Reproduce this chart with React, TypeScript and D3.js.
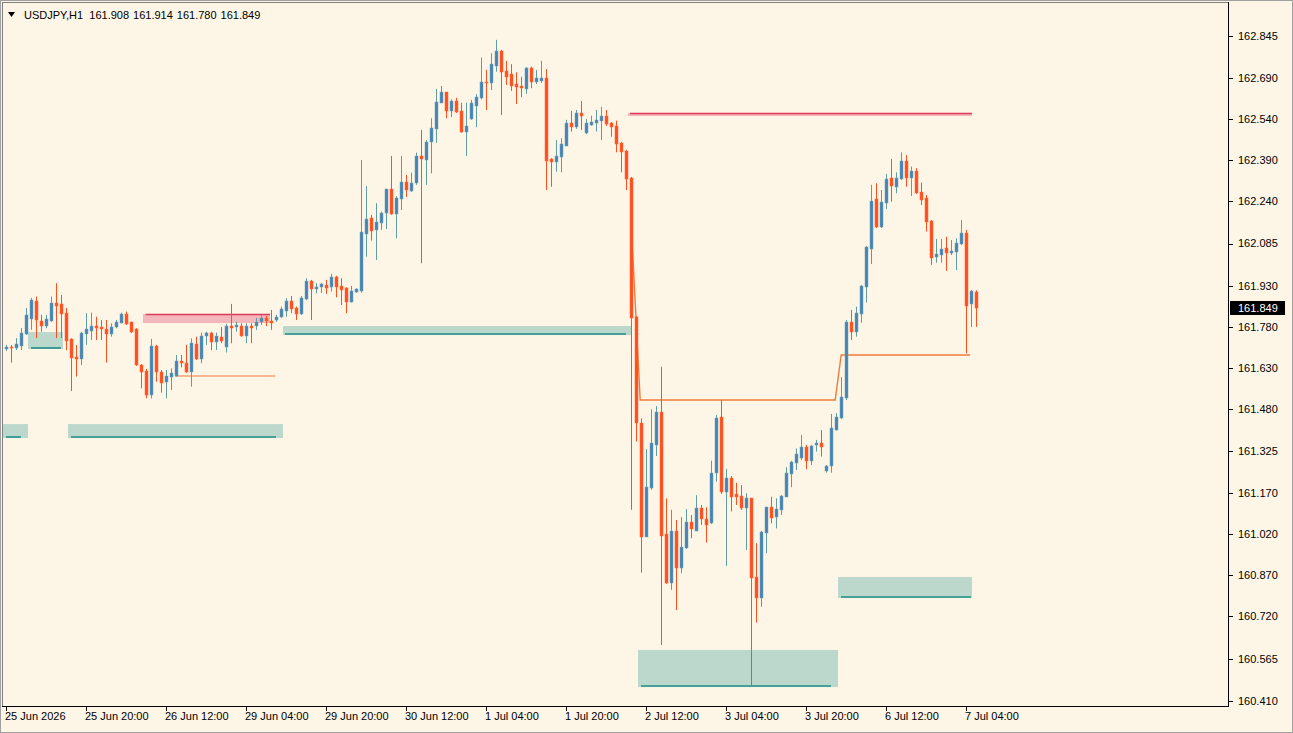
import React from 'react';
import * as d3 from 'd3';

// USDJPY H1 bars: [open, high, low, close]
const ohlc: [number, number, number, number][] = [
  [161.699, 161.714, 161.692, 161.706], [161.707, 161.714, 161.649, 161.702], [161.703, 161.739, 161.695, 161.717],
  [161.711, 161.776, 161.695, 161.759], [161.754, 161.849, 161.750, 161.824], [161.809, 161.886, 161.769, 161.878],
  [161.876, 161.891, 161.739, 161.805], [161.803, 161.824, 161.762, 161.784], [161.784, 161.824, 161.775, 161.809],
  [161.803, 161.891, 161.799, 161.869], [161.869, 161.940, 161.739, 161.858], [161.864, 161.897, 161.739, 161.827],
  [161.832, 161.849, 161.695, 161.730], [161.735, 161.738, 161.545, 161.665], [161.671, 161.714, 161.598, 161.661],
  [161.662, 161.762, 161.640, 161.757], [161.753, 161.830, 161.714, 161.771], [161.766, 161.832, 161.732, 161.784],
  [161.784, 161.817, 161.732, 161.775], [161.781, 161.805, 161.732, 161.771], [161.771, 161.805, 161.649, 161.753],
  [161.754, 161.793, 161.744, 161.781], [161.781, 161.805, 161.775, 161.799], [161.795, 161.832, 161.793, 161.827],
  [161.827, 161.836, 161.787, 161.791], [161.797, 161.799, 161.757, 161.760], [161.771, 161.775, 161.637, 161.640],
  [161.640, 161.644, 161.555, 161.616], [161.620, 161.626, 161.518, 161.531], [161.531, 161.736, 161.518, 161.710],
  [161.710, 161.714, 161.579, 161.616], [161.614, 161.622, 161.539, 161.573], [161.579, 161.622, 161.518, 161.600],
  [161.596, 161.628, 161.549, 161.610], [161.600, 161.677, 161.598, 161.656], [161.656, 161.677, 161.632, 161.647],
  [161.647, 161.714, 161.612, 161.616], [161.616, 161.738, 161.561, 161.720], [161.717, 161.744, 161.659, 161.661],
  [161.661, 161.759, 161.647, 161.747], [161.747, 161.762, 161.714, 161.759], [161.759, 161.762, 161.695, 161.726],
  [161.726, 161.759, 161.695, 161.747], [161.742, 161.779, 161.720, 161.730], [161.707, 161.791, 161.686, 161.783],
  [161.783, 161.864, 161.720, 161.775], [161.781, 161.799, 161.762, 161.787], [161.783, 161.793, 161.744, 161.748],
  [161.748, 161.793, 161.720, 161.783], [161.783, 161.793, 161.720, 161.775], [161.783, 161.813, 161.769, 161.798],
  [161.798, 161.824, 161.787, 161.812], [161.812, 161.820, 161.783, 161.803], [161.803, 161.842, 161.769, 161.794],
  [161.805, 161.824, 161.798, 161.817], [161.815, 161.854, 161.813, 161.844], [161.839, 161.885, 161.817, 161.876],
  [161.876, 161.893, 161.830, 161.844], [161.848, 161.854, 161.805, 161.827], [161.827, 161.893, 161.824, 161.885],
  [161.881, 161.958, 161.878, 161.949], [161.948, 161.952, 161.805, 161.918], [161.918, 161.940, 161.903, 161.927],
  [161.925, 161.941, 161.904, 161.936], [161.932, 161.952, 161.901, 161.921], [161.925, 161.974, 161.909, 161.962],
  [161.964, 161.967, 161.888, 161.927], [161.930, 161.958, 161.860, 161.915], [161.921, 161.925, 161.830, 161.872],
  [161.872, 161.930, 161.869, 161.913], [161.909, 161.921, 161.905, 161.918], [161.913, 162.391, 161.905, 162.129],
  [162.120, 162.296, 162.037, 162.174], [162.178, 162.190, 162.096, 162.132], [162.135, 162.233, 162.025, 162.163],
  [162.162, 162.202, 162.135, 162.196], [162.198, 162.285, 162.138, 162.284], [162.284, 162.406, 162.190, 162.192],
  [162.192, 162.259, 162.104, 162.251], [162.248, 162.406, 162.208, 162.309], [162.309, 162.336, 162.255, 162.281],
  [162.279, 162.345, 162.274, 162.306], [162.306, 162.418, 162.300, 162.406], [162.406, 162.501, 162.013, 162.394],
  [162.391, 162.464, 162.300, 162.456], [162.456, 162.544, 162.342, 162.507], [162.505, 162.651, 162.454, 162.605],
  [162.601, 162.662, 162.600, 162.639], [162.639, 162.640, 162.544, 162.572], [162.572, 162.613, 162.548, 162.608],
  [162.608, 162.619, 162.563, 162.566], [162.572, 162.601, 162.491, 162.495], [162.495, 162.601, 162.406, 162.516],
  [162.540, 162.611, 162.538, 162.599], [162.589, 162.632, 162.511, 162.621], [162.617, 162.766, 162.613, 162.676],
  [162.678, 162.721, 162.574, 162.672], [162.672, 162.782, 162.647, 162.742], [162.736, 162.831, 162.714, 162.791],
  [162.791, 162.794, 162.556, 162.714], [162.718, 162.754, 162.666, 162.696], [162.705, 162.742, 162.644, 162.663],
  [162.668, 162.712, 162.596, 162.657], [162.663, 162.696, 162.621, 162.654], [162.651, 162.731, 162.633, 162.727],
  [162.727, 162.733, 162.654, 162.678], [162.678, 162.721, 162.669, 162.690], [162.681, 162.754, 162.673, 162.690],
  [162.690, 162.724, 162.281, 162.387], [162.394, 162.398, 162.293, 162.383], [162.385, 162.464, 162.348, 162.407],
  [162.402, 162.471, 162.346, 162.449], [162.443, 162.538, 162.442, 162.526], [162.526, 162.571, 162.495, 162.513],
  [162.513, 162.574, 162.505, 162.562], [162.562, 162.607, 162.501, 162.553], [162.489, 162.541, 162.486, 162.526],
  [162.519, 162.553, 162.516, 162.529], [162.526, 162.574, 162.495, 162.538], [162.534, 162.586, 162.464, 162.553],
  [162.553, 162.574, 162.516, 162.522], [162.526, 162.530, 162.476, 162.513], [162.517, 162.535, 162.419, 162.449],
  [162.452, 162.457, 162.346, 162.422], [162.424, 162.428, 162.281, 162.322], [162.324, 162.329, 161.110, 161.812],
  [161.815, 161.820, 161.360, 161.427], [161.427, 161.445, 160.880, 161.012], [161.012, 161.332, 161.011, 161.193],
  [161.189, 161.478, 161.183, 161.354], [161.348, 161.490, 161.307, 161.467], [161.467, 161.634, 160.615, 161.015],
  [161.021, 161.152, 160.839, 160.841], [160.841, 161.110, 160.817, 161.033], [161.033, 161.073, 160.743, 160.896],
  [160.896, 161.083, 160.878, 160.973], [160.969, 161.113, 160.967, 161.065], [161.065, 161.091, 161.006, 161.039],
  [161.034, 161.164, 161.033, 161.116], [161.116, 161.128, 161.055, 161.076], [161.076, 161.119, 160.990, 161.055],
  [161.061, 161.290, 161.058, 161.246], [161.246, 161.457, 161.213, 161.445], [161.449, 161.512, 161.168, 161.177],
  [161.177, 161.260, 160.905, 161.226], [161.226, 161.234, 161.104, 161.158], [161.167, 161.209, 161.128, 161.158],
  [161.161, 161.201, 161.110, 161.116], [161.116, 161.171, 160.963, 161.152], [161.152, 161.153, 160.465, 160.859],
  [160.863, 160.988, 160.697, 160.786], [160.786, 161.033, 160.755, 161.030], [161.024, 161.121, 160.951, 161.120],
  [161.122, 161.158, 161.061, 161.079], [161.085, 161.152, 161.042, 161.112], [161.110, 161.164, 161.091, 161.161],
  [161.158, 161.266, 161.157, 161.246], [161.241, 161.289, 161.193, 161.286], [161.283, 161.335, 161.256, 161.313],
  [161.299, 161.384, 161.292, 161.339], [161.341, 161.348, 161.259, 161.290], [161.290, 161.348, 161.274, 161.344],
  [161.348, 161.366, 161.323, 161.356], [161.356, 161.402, 161.305, 161.339], [161.253, 161.274, 161.246, 161.271],
  [161.271, 161.461, 161.246, 161.409], [161.404, 161.464, 161.400, 161.449], [161.445, 161.596, 161.443, 161.524],
  [161.518, 161.805, 161.512, 161.799], [161.799, 161.842, 161.732, 161.762], [161.762, 161.854, 161.744, 161.830],
  [161.827, 161.933, 161.795, 161.931], [161.927, 162.076, 161.869, 162.071], [162.064, 162.300, 162.010, 162.242],
  [162.247, 162.306, 162.142, 162.145], [162.145, 162.281, 162.142, 162.238], [162.235, 162.340, 162.211, 162.320],
  [162.324, 162.395, 162.238, 162.296], [162.293, 162.346, 162.269, 162.324], [162.320, 162.419, 162.318, 162.389],
  [162.389, 162.409, 162.293, 162.324], [162.324, 162.367, 162.259, 162.351], [162.351, 162.361, 162.267, 162.269],
  [162.273, 162.308, 162.226, 162.245], [162.251, 162.263, 162.129, 162.165], [162.169, 162.171, 162.007, 162.031],
  [162.037, 162.102, 162.015, 162.046], [162.043, 162.102, 162.015, 162.064], [162.068, 162.110, 161.985, 162.049],
  [162.049, 162.098, 162.043, 162.059], [162.055, 162.104, 161.988, 162.086], [162.084, 162.171, 162.080, 162.123],
  [162.123, 162.135, 161.683, 161.858], [161.864, 161.915, 161.779, 161.913], [161.908, 161.914, 161.780, 161.849],
];

const timeLabels: [number, string][] = [
  [0, '25 Jun 2026'], [16, '25 Jun 20:00'], [32, '26 Jun 12:00'], [48, '29 Jun 04:00'],
  [64, '29 Jun 20:00'], [80, '30 Jun 12:00'], [96, '1 Jul 04:00'], [112, '1 Jul 20:00'],
  [128, '2 Jul 12:00'], [144, '3 Jul 04:00'], [160, '3 Jul 20:00'], [176, '6 Jul 12:00'],
  [192, '7 Jul 04:00'],
];

const priceTicks = [
  162.845, 162.690, 162.540, 162.390, 162.240, 162.085, 161.930, 161.780, 161.630,
  161.480, 161.325, 161.170, 161.020, 160.870, 160.720, 160.565, 160.410,
];

// demand zones: bar range, guide-line bar range, price top / bottom
const demandZones = [
  { from: -0.54, to: 4.46, lineFrom: 0.06, lineTo: 3.06, top: 161.424, bottom: 161.373 },
  { from: 12.46, to: 55.46, lineFrom: 13.06, lineTo: 54.06, top: 161.424, bottom: 161.373 },
  { from: 4.46, to: 11.46, lineFrom: 5.06, lineTo: 11.06, top: 161.761, bottom: 161.699 },
  { from: 55.46, to: 125.26, lineFrom: 55.86, lineTo: 124.06, top: 161.783, bottom: 161.750 },
  { from: 126.46, to: 166.46, lineFrom: 127.06, lineTo: 165.06, top: 160.597, bottom: 160.461 },
  { from: 166.46, to: 193.26, lineFrom: 167.06, lineTo: 193.06, top: 160.864, bottom: 160.787 },
];

const supplyZones = [
  { from: 27.46, to: 52.86, lineFrom: 28.0, lineTo: 52.86, top: 161.827, bottom: 161.794 },
  { from: 124.46, to: 193.26, lineFrom: 124.86, lineTo: 193.26, top: 162.563, bottom: 162.552 },
];

const pivotLine: [number, number][] = [[33.9, 161.600], [53.9, 161.600]];
const trailLine: [number, number][] = [
  [125.3, 162.086], [126.9, 161.512], [165.9, 161.512], [167.1, 161.677], [192.9, 161.677],
];

const header = { symbol: 'USDJPY,H1', values: ['161.908', '161.914', '161.780', '161.849'] };
const lastPrice = 161.849;

const W = 1293;
const H = 733;
const plotRight = 1228;
const plotBottom = 706;

const BULL_BODY = '#4682B4';
const BULL_WICK = '#5F9EA0';
const BEAR = '#FF4F1E';
const FONT = '"Liberation Sans", Arial, sans-serif';

export default function App() {
  const x = d3.scaleLinear().domain([0, ohlc.length - 1]).range([5.7, 975.7]);
  const y = d3.scaleLinear().domain([160.41, 162.845]).range([701, 36]);
  const line = d3.line<[number, number]>().x((d) => x(d[0])).y((d) => y(d[1]));

  return (
    <svg
      width={W}
      height={H}
      style={{ position: 'absolute', left: 0, top: 0, background: '#FDF5E6' }}
      fontFamily={FONT}
    >
      <rect x={0} y={0} width={W} height={H} fill="#FDF5E6" />

      {/* zones behind the bars */}
      {demandZones.map((z, i) => (
        <g key={`dz-${i}`}>
          <rect x={x(z.from)} y={y(z.top)} width={x(z.to) - x(z.from)} height={y(z.bottom) - y(z.top)} fill="#BCD8CD" />
          <line x1={x(z.lineFrom)} x2={x(z.lineTo)} y1={y(z.bottom) - 1} y2={y(z.bottom) - 1} stroke="#1F8F8A" strokeWidth={1.6} />
        </g>
      ))}
      {supplyZones.map((z, i) => (
        <g key={`sz-${i}`}>
          <rect x={x(z.from)} y={y(z.top)} width={x(z.to) - x(z.from)} height={Math.max(3, y(z.bottom) - y(z.top))} fill="#F3B7BB" />
          <line x1={x(z.lineFrom)} x2={x(z.lineTo)} y1={y(z.top) + 0.5} y2={y(z.top) + 0.5} stroke="#DC3A58" strokeWidth={1.6} />
        </g>
      ))}

      <path d={line(pivotLine) || ''} fill="none" stroke="#EE7B3A" strokeWidth={1.2} />
      <path d={line(trailLine) || ''} fill="none" stroke="#EE7B3A" strokeWidth={1.4} />

      {/* candles */}
      {ohlc.map(([o, h, l, c], i) => {
        const cx = Math.round(x(i));
        const bull = c >= o;
        const top = Math.round(y(Math.max(o, c)));
        const bot = Math.round(y(Math.min(o, c)));
        return (
          <g key={i}>
            <line x1={cx + 0.5} x2={cx + 0.5} y1={y(h)} y2={y(l)} stroke={bull ? BULL_WICK : BEAR} strokeWidth={1} />
            <rect
              x={cx - 1}
              y={top}
              width={3}
              height={Math.max(1, bot - top)}
              fill={bull ? BULL_BODY : BEAR}
              stroke={bull ? '#6FA9B8' : '#FF6A3A'}
              strokeWidth={0.5}
            />
          </g>
        );
      })}

      {/* frame */}
      <rect x={0.5} y={0.5} width={W - 1} height={H - 1} fill="none" stroke="#A0A0A0" />
      <line x1={2.5} x2={2.5} y1={2} y2={plotBottom} stroke="#808080" strokeWidth={1} />
      <line x1={2} x2={plotRight} y1={2.5} y2={2.5} stroke="#808080" strokeWidth={1} />
      <line x1={plotRight + 0.5} x2={plotRight + 0.5} y1={2} y2={plotBottom + 1} stroke="#000" />
      <line x1={2} x2={plotRight + 1} y1={plotBottom + 0.5} y2={plotBottom + 0.5} stroke="#000" />

      {/* price axis */}
      {priceTicks.map((p) => (
        <g key={p}>
          <line x1={plotRight + 1} x2={plotRight + 5} y1={Math.round(y(p)) + 0.5} y2={Math.round(y(p)) + 0.5} stroke="#000" />
          <text x={1238} y={y(p)} dy="0.35em" fontSize={11} fill="#000">{p.toFixed(3)}</text>
        </g>
      ))}
      <rect x={1230} y={Math.round(y(lastPrice)) - 7} width={55} height={14} fill="#000" />
      <text x={1238} y={y(lastPrice)} dy="0.35em" fontSize={11} fill="#fff">{lastPrice.toFixed(3)}</text>

      {/* time axis */}
      {timeLabels.map(([i, label]) => (
        <g key={label}>
          <line x1={Math.round(x(i)) + 0.5} x2={Math.round(x(i)) + 0.5} y1={plotBottom} y2={plotBottom + 5} stroke="#000" />
          <text x={Math.round(x(i)) - 1} y={720} fontSize={11} fill="#000">{label}</text>
        </g>
      ))}

      {/* header */}
      <path d="M8,12 L15,12 L11.5,17 Z" fill="#000" />
      <text x={24} y={19} fontSize={11} fill="#000">
        {header.symbol}
        {header.values.map((v, i) => (
          <tspan key={i} dx={i === 0 ? 7 : 4}>{v}</tspan>
        ))}
      </text>
    </svg>
  );
}
